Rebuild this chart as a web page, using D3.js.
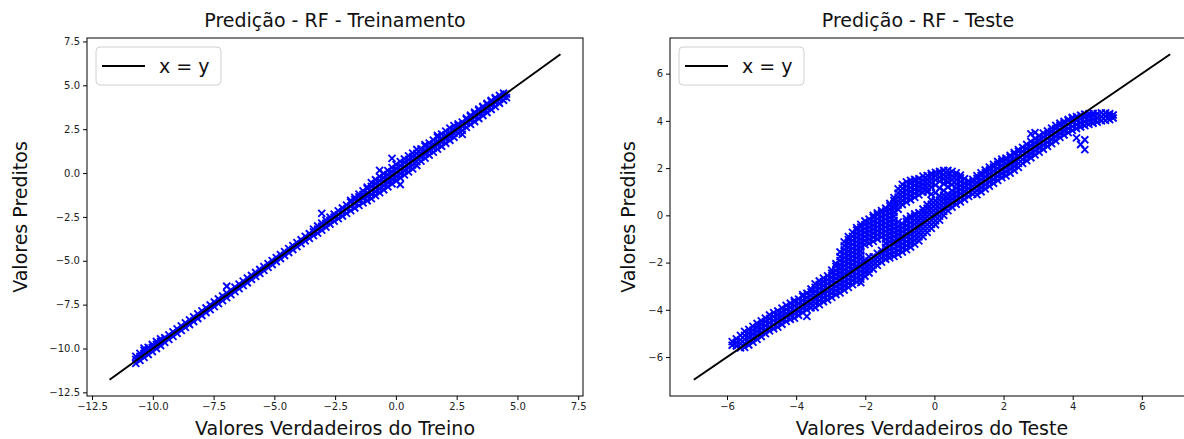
<!DOCTYPE html>
<html>
<head>
<meta charset="utf-8">
<script src="https://cdn.jsdelivr.net/npm/d3@7"></script>
<style>
  html, body { margin: 0; padding: 0; background: #fff; }
  svg { display: block; }
</style>
</head>
<body>
<svg id="chart" width="1184" height="439"></svg>
<script>
// ---- Training set: true values, and the predictions recorded at each true value ----
const trainTrue = [-10.7,-10.53,-10.36,-10.19,-10.02,-9.85,-9.68,-9.51,-9.34,-9.17,-9.0,-8.83,-8.66,-8.49,-8.32,-8.15,-7.98,-7.81,-7.64,-7.47,-7.3,-7.13,-6.96,-6.79,-6.62,-6.45,-6.28,-6.11,-5.94,-5.77,-5.6,-5.43,-5.26,-5.09,-4.92,-4.75,-4.58,-4.41,-4.24,-4.07,-3.9,-3.73,-3.56,-3.39,-3.22,-3.05,-2.88,-2.71,-2.54,-2.37,-2.2,-2.03,-1.86,-1.69,-1.52,-1.35,-1.18,-1.01,-0.84,-0.67,-0.5,-0.33,-0.16,0.01,0.18,0.35,0.52,0.69,0.86,1.03,1.2,1.37,1.54,1.71,1.88,2.05,2.22,2.39,2.56,2.73,2.9,3.07,3.24,3.41,3.58,3.75,3.92,4.09,4.26,4.43,4.55];
const trainPred = [
  [-10.85,-10.62,-10.45],[-10.68,-10.45,-10.28],[-10.51,-10.28,-10.11,-9.98],[-10.34,-10.11,-9.94],[-10.17,-9.94,-9.77],
  [-10.0,-9.77,-9.6],[-9.83,-9.6,-9.45],[-9.65,-9.39],[-9.48,-9.22],[-9.31,-9.05],
  [-9.14,-8.88],[-8.97,-8.71],[-8.8,-8.54],[-8.63,-8.37],[-8.46,-8.2],
  [-8.29,-8.03],[-8.12,-7.86],[-7.95,-7.69],[-7.78,-7.52],[-7.61,-7.35],
  [-7.44,-7.18],[-7.27,-7.01],[-7.1,-6.84,-6.45],[-6.93,-6.67],[-6.76,-6.5],
  [-6.59,-6.33],[-6.42,-6.16],[-6.25,-5.99],[-6.06,-5.84],[-5.89,-5.67],
  [-5.72,-5.5],[-5.55,-5.33],[-5.38,-5.16],[-5.21,-4.99],[-5.04,-4.82],
  [-4.87,-4.65],[-4.7,-4.48],[-4.53,-4.31],[-4.36,-4.14],[-4.19,-3.97],
  [-4.02,-3.8],[-3.87,-3.61],[-3.72,-3.46],[-3.57,-3.35,-3.2],[-3.42,-3.2,-3.02],
  [-3.25,-3.03,-2.85,-2.3],[-3.08,-2.86,-2.68],[-2.91,-2.69,-2.51],[-2.74,-2.52,-2.34],[-2.6,-2.38,-2.16],
  [-2.45,-2.22,-1.99],[-2.3,-2.06,-1.83],[-2.14,-1.9,-1.66,-1.56],[-1.99,-1.75,-1.51,-1.39],[-1.84,-1.6,-1.36,-1.2],
  [-1.7,-1.46,-1.22,-1.02],[-1.58,-1.35,-1.12,-0.89,-0.8],[-1.46,-1.22,-0.99,-0.76,-0.55],[-1.29,-1.06,-0.83,-0.6,-0.38],[-1.12,-0.89,-0.66,-0.43,-0.2,0.15],
  [-0.95,-0.72,-0.49,-0.26,-0.03],[-0.78,-0.55,-0.32,-0.09,0.14],[-0.61,-0.38,-0.15,0.08,0.31,0.84],[-0.44,-0.21,0.02,0.25,0.48],[-0.65,-0.27,-0.04,0.19,0.42,0.65],
  [-0.1,0.13,0.36,0.59,0.8],[0.07,0.3,0.53,0.76,0.98],[0.24,0.47,0.7,0.93,1.14],[0.43,0.66,0.89,1.12,1.34],[0.68,0.91,1.14,1.37],
  [0.85,1.08,1.31,1.54,1.62],[1.02,1.25,1.48,1.71],[1.19,1.42,1.65,1.88],[1.36,1.59,1.82,2.05,2.15],[1.53,1.76,1.99,2.22],
  [1.7,1.93,2.16,2.39],[1.87,2.1,2.33,2.56],[2.04,2.27,2.5,2.7],[2.26,2.49,2.72,2.8],[2.2,2.43,2.66,2.9],
  [2.6,2.83,3.06,3.13],[2.77,3.0,3.23,3.3],[2.94,3.17,3.4,3.47],[3.11,3.34,3.57,3.64],[3.28,3.51,3.74,3.8],
  [3.45,3.68,3.91,3.97],[3.62,3.85,4.08,4.14],[3.79,4.02,4.25,4.3],[3.98,4.2,4.42],[4.15,4.37,4.55],
  [4.3,4.5]
];

// ---- Test set: true values, and the predictions recorded at each true value ----
const testTrue = [-5.85,-5.73,-5.61,-5.49,-5.37,-5.25,-5.13,-5.01,-4.89,-4.77,-4.65,-4.53,-4.41,-4.29,-4.17,-4.05,-3.93,-3.81,-3.69,-3.57,-3.45,-3.33,-3.21,-3.09,-2.97,-2.85,-2.73,-2.61,-2.49,-2.37,-2.25,-2.13,-2.01,-1.89,-1.77,-1.65,-1.53,-1.41,-1.29,-1.17,-1.05,-0.93,-0.81,-0.69,-0.57,-0.45,-0.33,-0.21,-0.09,0.03,0.15,0.27,0.39,0.51,0.63,0.75,0.87,0.99,1.11,1.23,1.35,1.47,1.59,1.71,1.83,1.95,2.07,2.19,2.31,2.43,2.55,2.67,2.79,2.91,3.03,3.15,3.27,3.39,3.51,3.63,3.75,3.87,3.99,4.11,4.23,4.35,4.47,4.59,4.71,4.83,4.95,5.07,5.17];
const testPred = [
  [-5.5,-5.35],[-5.53,-5.38,-5.23],[-5.61,-5.44,-5.27,-5.08],[-5.59,-5.42,-5.25,-5.08,-4.91],[-5.49,-5.32,-5.15,-4.98,-4.83],
  [-5.37,-5.2,-5.03,-4.86,-4.7],[-5.25,-5.08,-4.91,-4.74,-4.58],[-5.13,-4.96,-4.79,-4.62,-4.47],[-5.01,-4.84,-4.67,-4.5,-4.35],[-4.89,-4.72,-4.55,-4.38,-4.22],
  [-4.8,-4.63,-4.46,-4.29,-4.12],[-4.73,-4.56,-4.39,-4.22,-4.05],[-4.61,-4.44,-4.27,-4.1,-3.93],[-4.49,-4.32,-4.15,-3.98,-3.81],[-4.4,-4.23,-4.06,-3.89,-3.72],
  [-4.35,-4.18,-4.01,-3.84,-3.67,-3.6],[-4.23,-4.06,-3.89,-3.72,-3.55],[-4.11,-3.94,-3.77,-3.6,-3.43,-3.36],[-4.28,-3.99,-3.82,-3.65,-3.48,-3.3],[-3.92,-3.75,-3.58,-3.41,-3.24,-3.12],
  [-3.9,-3.73,-3.56,-3.39,-3.22,-3.05,-2.9],[-3.78,-3.61,-3.44,-3.27,-3.1,-2.93,-2.78],[-3.66,-3.49,-3.32,-3.15,-2.98,-2.81,-2.66],[-3.58,-3.41,-3.24,-3.07,-2.9,-2.73,-2.56],[-3.47,-3.3,-3.13,-2.96,-2.79,-2.62,-2.45,-2.32],
  [-3.35,-3.18,-3.01,-2.84,-2.67,-2.5,-2.33,-2.16,-2.05],
  [-3.28,-3.11,-2.94,-2.77,-2.6,-2.43,-2.26,-2.09,-1.92,-1.75,-1.55],
  [-3.16,-2.99,-2.82,-2.65,-2.48,-2.31,-2.14,-1.97,-1.8,-1.63,-1.46,-1.29,-1.12],
  [-3.05,-2.88,-2.71,-2.54,-2.37,-2.2,-2.03,-1.86,-1.69,-1.52,-1.35,-1.18,-1.03,-0.9],
  [-2.93,-2.76,-2.59,-2.42,-2.25,-2.08,-1.91,-1.74,-1.57,-1.4,-1.23,-1.06,-0.89,-0.72],
  [-2.82,-2.65,-2.48,-2.31,-2.14,-1.97,-1.8,-1.63,-1.46,-1.29,-1.12,-0.95,-0.78,-0.62,-0.52],
  [-2.85,-2.7,-2.53,-2.36,-2.19,-2.02,-1.85,-1.68,-1.51,-1.34,-1.17,-1.0,-0.83,-0.66,-0.5,-0.38],
  [-2.58,-2.41,-2.24,-2.07,-1.9,-1.24,-1.07,-0.9,-0.73,-0.56,-0.39,-0.24],
  [-2.44,-2.27,-2.1,-1.93,-1.76,-1.18,-1.01,-0.84,-0.67,-0.5,-0.33,-0.16],
  [-2.27,-2.1,-1.93,-1.76,-1.1,-0.93,-0.76,-0.59,-0.42,-0.25,-0.08,0.0],
  [-2.12,-1.95,-1.78,-1.61,-1.0,-0.83,-0.66,-0.49,-0.32,-0.15,0.02,0.1],
  [-1.98,-1.81,-1.64,-1.48,-0.92,-0.75,-0.58,-0.41,-0.24,-0.07,0.1,0.2],
  [-1.86,-1.69,-1.52,-1.35,-1.18,-1.01,-0.84,-0.67,-0.5,-0.33,-0.16,0.01,0.18,0.3],
  [-1.8,-1.63,-1.46,-1.29,-1.12,-0.95,-0.78,-0.61,-0.44,-0.27,-0.1,0.07,0.24,0.4,0.5],
  [-1.74,-1.57,-1.4,-1.23,-1.06,-0.89,-0.72,-0.55,-0.38,-0.21,-0.04,0.13,0.3,0.47,0.63,0.75],
  [-1.65,-1.48,-1.31,-1.14,-0.97,-0.8,-0.63,-0.46,-0.29,0.26,0.43,0.6,0.77,0.94,1.12],
  [-1.55,-1.38,-1.21,-1.04,-0.87,-0.7,-0.53,-0.36,0.46,0.63,0.8,0.97,1.14,1.31],
  [-1.45,-1.28,-1.11,-0.94,-0.77,-0.6,-0.43,-0.26,-0.14,0.56,0.73,0.9,1.07,1.24,1.42],
  [-1.34,-1.17,-1.0,-0.83,-0.66,-0.49,-0.32,-0.15,-0.04,0.66,0.83,1.0,1.17,1.34,1.48],
  [-1.22,-1.05,-0.88,-0.71,-0.54,-0.37,-0.2,-0.03,0.06,0.76,0.93,1.1,1.27,1.44,1.52],
  [-1.08,-0.91,-0.74,-0.57,-0.4,-0.23,-0.06,0.11,0.87,1.04,1.21,1.38,1.55],
  [-0.9,-0.73,-0.56,-0.39,-0.22,-0.05,0.12,0.27,0.98,1.15,1.32,1.49,1.66],
  [-0.72,-0.55,-0.38,-0.21,-0.04,0.13,0.3,0.45,1.0,1.17,1.34,1.51,1.68],
  [-0.55,-0.38,-0.21,-0.04,0.13,0.3,0.47,0.64,0.9,1.2,1.37,1.54,1.71,1.78],
  [-0.4,-0.23,-0.06,0.11,0.28,0.45,0.62,0.95,1.28,1.5,1.67,1.82],
  [-0.2,-0.03,0.14,0.31,0.48,0.65,0.82,1.15,1.45,1.62,1.79,1.86],
  [0.0,0.17,0.34,0.51,0.68,0.85,1.05,1.35,1.55,1.72,1.9],
  [0.2,0.37,0.54,0.71,0.88,1.2,1.4,1.57,1.74,1.9],
  [0.35,0.52,0.69,0.86,1.03,1.3,1.5,1.67,1.86],
  [0.47,0.64,0.81,0.98,1.15,1.32,1.5,1.67,1.8],
  [0.57,0.74,0.91,1.08,1.25,1.42,1.59,1.7],
  [0.68,0.85,1.02,1.19,1.36,1.55],
  [0.8,0.97,1.14,1.31,1.45],
  [0.9,1.07,1.24,1.41,1.52],
  [0.88,1.05,1.22,1.39,1.56,1.68],
  [1.0,1.17,1.34,1.51,1.68,1.8],[1.12,1.29,1.46,1.63,1.8,1.92],[1.24,1.41,1.58,1.75,1.92,2.04],[1.36,1.53,1.7,1.87,2.04,2.16],[1.48,1.65,1.82,1.99,2.16,2.28],
  [1.6,1.77,1.94,2.11,2.28,2.38],[1.67,1.84,2.01,2.18,2.35,2.42],[1.79,1.96,2.13,2.3,2.47,2.54],[1.91,2.08,2.25,2.42,2.59,2.66],[2.03,2.2,2.37,2.54,2.71,2.78],
  [2.2,2.37,2.54,2.71,2.88],[2.32,2.49,2.66,2.83,3.0],[2.44,2.61,2.78,2.95,3.12,3.45],[2.56,2.73,2.9,3.07,3.24,3.5],[2.68,2.85,3.02,3.19,3.36],
  [2.8,2.97,3.14,3.31,3.48],[2.92,3.09,3.26,3.43,3.57],[3.04,3.21,3.38,3.55,3.69],[3.16,3.33,3.5,3.67,3.81],[3.3,3.47,3.64,3.81,3.9],
  [3.4,3.57,3.74,3.91,3.98],[3.5,3.67,3.84,4.01,4.06],[3.6,3.77,3.94,4.11,4.15],[3.28,3.67,3.84,4.01,4.18],[3.0,3.74,3.91,4.08,4.24],
  [2.78,3.2,3.8,3.97,4.14,4.28],[3.85,4.02,4.19,4.3],[3.9,4.07,4.24,4.32],[3.95,4.12,4.3],[4.0,4.17,4.34],
  [4.02,4.19,4.34],[4.05,4.2,4.3],[4.12,4.25]
];

// ---- Reference line x = y (end points) and axis ticks ----
const trainLine = [-11.78, 6.77];
const testLine = [-6.96, 6.82];
const trainTicks = [-12.5, -10, -7.5, -5, -2.5, 0, 2.5, 5, 7.5];
const testTicks = [-6, -4, -2, 0, 2, 4, 6];

// ---- Texts ----
const titles = ["Predição - RF - Treinamento", "Predição - RF - Teste"];
const xLabels = ["Valores Verdadeiros do Treino", "Valores Verdadeiros do Teste"];
const yLabel = "Valores Preditos";
const legendLabel = "x = y";

const svg = d3.select("#chart");
const textFont = "'DejaVu Sans', sans-serif";

const panels = [
  { trueVals: trainTrue, predVals: trainPred, line: trainLine, ticks: trainTicks, fmt: d3.format(".1f"),
    title: titles[0], xLabel: xLabels[0], box: { x0: 87, x1: 583, y0: 38, y1: 396 }, titleX: 335, yLabelX: 27 },
  { trueVals: testTrue, predVals: testPred, line: testLine, ticks: testTicks, fmt: d3.format("d"),
    title: titles[1], xLabel: xLabels[1], box: { x0: 670, x1: 1194, y0: 38, y1: 396 }, titleX: 918, yLabelX: 635 }
];

panels.forEach((p, pi) => {
  const b = p.box;
  // autoscale with a 5% margin around the x = y segment
  const span = p.line[1] - p.line[0];
  const dom = [p.line[0] - 0.05 * span, p.line[1] + 0.05 * span];
  const x = d3.scaleLinear().domain(dom).range([b.x0, b.x1]);
  const y = d3.scaleLinear().domain(dom).range([b.y1, b.y0]);

  const g = svg.append("g");
  const clipId = "clip" + pi;
  svg.append("clipPath").attr("id", clipId)
    .append("rect").attr("x", b.x0).attr("y", b.y0).attr("width", b.x1 - b.x0).attr("height", b.y1 - b.y0);

  // scatter points (x markers)
  const pts = [];
  p.trueVals.forEach((t, i) => p.predVals[i].forEach(v => pts.push([t, v])));
  const cross = "M-3.5,-3.5L3.5,3.5M-3.5,3.5L3.5,-3.5";
  g.append("g").attr("clip-path", `url(#${clipId})`)
    .selectAll("path").data(pts).join("path")
    .attr("d", cross)
    .attr("transform", d => `translate(${x(d[0])},${y(d[1])})`)
    .attr("fill", "none").attr("stroke", "#0000ff").attr("stroke-width", 1.9);

  // x = y line
  g.append("line")
    .attr("x1", x(p.line[0])).attr("y1", y(p.line[0]))
    .attr("x2", x(p.line[1])).attr("y2", y(p.line[1]))
    .attr("stroke", "#000").attr("stroke-width", 2);

  // axes
  const xAxis = d3.axisBottom(x).tickValues(p.ticks).tickFormat(p.fmt).tickSize(4).tickPadding(3);
  const yAxis = d3.axisLeft(y).tickValues(p.ticks).tickFormat(p.fmt).tickSize(4).tickPadding(3);
  const gx = g.append("g").attr("transform", `translate(0,${b.y1})`).call(xAxis);
  const gy = g.append("g").attr("transform", `translate(${b.x0},0)`).call(yAxis);
  [gx, gy].forEach(ax => {
    ax.select(".domain").remove();
    ax.selectAll(".tick line").attr("stroke", "#000").attr("stroke-width", 1);
    ax.selectAll(".tick text").attr("fill", "#222").style("font-family", textFont).style("font-size", "10px");
  });

  // frame
  g.append("rect").attr("x", b.x0).attr("y", b.y0)
    .attr("width", b.x1 - b.x0).attr("height", b.y1 - b.y0)
    .attr("fill", "none").attr("stroke", "#000").attr("stroke-width", 1);

  // title and axis labels
  const cx = (b.x0 + b.x1) / 2;
  g.append("text").attr("x", p.titleX).attr("y", 27).attr("text-anchor", "middle")
    .style("font-family", textFont).style("font-size", "19px").attr("fill", "#111").text(p.title);
  g.append("text").attr("x", cx).attr("y", 435).attr("text-anchor", "middle")
    .style("font-family", textFont).style("font-size", "19px").attr("fill", "#111").text(p.xLabel);
  g.append("text").attr("transform", `translate(${p.yLabelX},${(b.y0 + b.y1) / 2}) rotate(-90)`)
    .attr("text-anchor", "middle")
    .style("font-family", textFont).style("font-size", "19px").attr("fill", "#111").text(yLabel);

  // legend
  const lg = g.append("g").attr("transform", `translate(${b.x0 + 9},${b.y0 + 9})`);
  lg.append("rect").attr("width", 125).attr("height", 38).attr("rx", 4)
    .attr("fill", "#fff").attr("fill-opacity", 0.8).attr("stroke", "#d0d0d0").attr("stroke-width", 1);
  lg.append("line").attr("x1", 6).attr("x2", 49).attr("y1", 19).attr("y2", 19)
    .attr("stroke", "#000").attr("stroke-width", 2);
  lg.append("text").attr("x", 63).attr("y", 26)
    .style("font-family", textFont).style("font-size", "19px").attr("fill", "#111").text(legendLabel);
});
</script>
</body>
</html>
